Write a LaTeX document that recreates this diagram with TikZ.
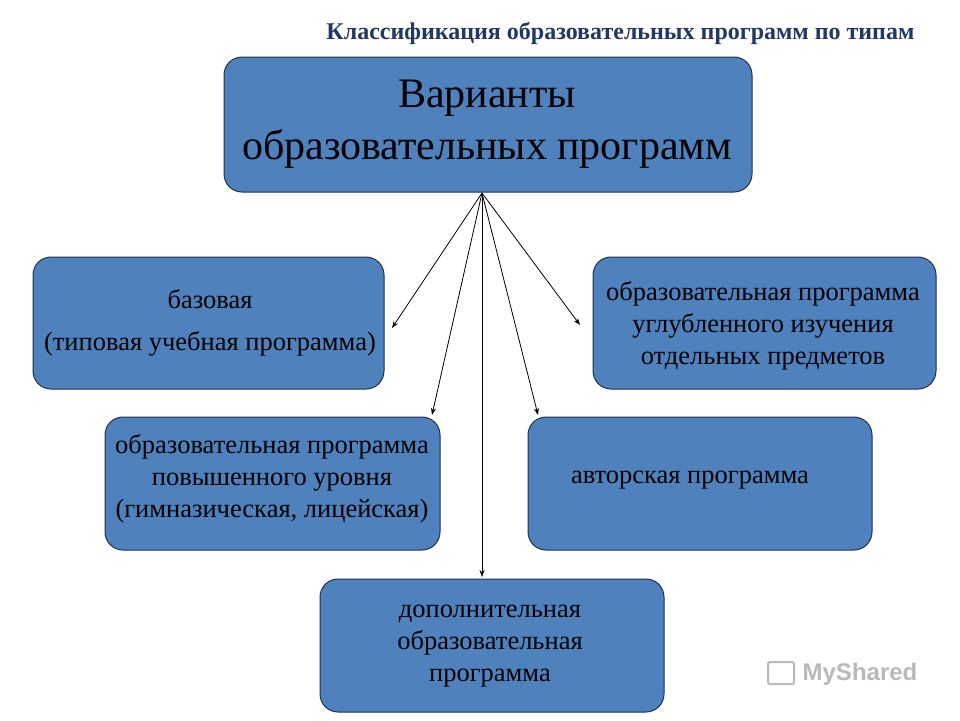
\documentclass[tikz,border=0pt]{standalone}
\usepackage{fontspec}
\usetikzlibrary{arrows.meta}
\setmainfont{Liberation Serif}
\newfontfamily\wmfont{Liberation Sans}
\definecolor{boxfill}{HTML}{4F81BD}
\definecolor{boxline}{HTML}{1F3050}
\definecolor{titleblue}{HTML}{1F3864}
\begin{document}
\begin{tikzpicture}[x=1pt,y=-1pt,
  box/.style={draw=boxline,line width=1pt,fill=boxfill,rounded corners=18pt},
  txt/.style={align=center,font=\fontsize{26.5}{32}\selectfont,text=black},
  arr/.style={-{Stealth[length=7pt,width=5pt]},line width=0.8pt}]
\useasboundingbox (0,0) rectangle (960,720);
\fill[white] (0,0) rectangle (960,720);
\node[font=\bfseries\fontsize{24}{26}\selectfont,text=titleblue,anchor=east,
  preaction={}] (title) at (918,33) {Классификация образовательных программ по типам};

\draw[box] (224,57) rectangle (752,192);
\node[txt,font=\fontsize{42}{52}\selectfont] (top) at (487,124) {Варианты\\образовательных программ};
\coordinate (src) at (482,193);

\draw[box] (33,257) rectangle (384,389);
\node[txt] (b1) at (210,323) {базовая\\[10pt](типовая учебная программа)};

\draw[box] (593,257) rectangle (936,389);
\node[txt] (b2) at (763,326) {образовательная программа\\углубленного изучения\\отдельных предметов};

\draw[box] (105,417) rectangle (440,550);
\node[txt] (b3) at (272,479) {образовательная программа\\повышенного уровня\\(гимназическая, лицейская)};

\draw[box] (528,417) rectangle (872,550);
\node[txt] (b4) at (690,480) {авторская программа};

\draw[box] (320,579) rectangle (664,712);
\node[txt] (b5) at (490,646) {дополнительная\\образовательная\\программа};

\coordinate (e1) at (392,328);
\coordinate (e2) at (432,415);
\coordinate (e3) at (482,577);
\coordinate (e4) at (538,415);
\coordinate (e5) at (580,325);
\foreach \e in {e1,e2,e3,e4,e5} \draw[arr] (src) -- (\e);

\node[font=\wmfont\bfseries\fontsize{24}{28}\selectfont,text=gray!55] (wm) at (860,674) {MyShared};
\draw[gray!55,line width=2pt,rounded corners=2pt] (768,662) rectangle (794,684);
\end{tikzpicture}
\end{document}
